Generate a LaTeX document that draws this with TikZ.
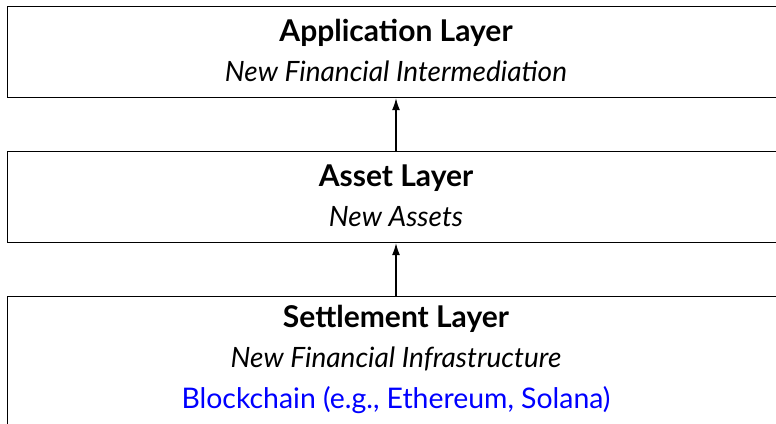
\documentclass[tikz,border=0pt]{standalone}
\usepackage{fontspec}
\setmainfont{Lato}
\usetikzlibrary{arrows.meta}
\tikzset{
  layerbox/.style={draw=black, line width=0.9pt, minimum width=586.5pt, inner sep=0pt, anchor=north west},
  titletext/.style={anchor=base, inner sep=0pt, font=\fontsize{22.5}{26}\selectfont\bfseries},
  subtext/.style={anchor=base, inner sep=0pt, font=\fontsize{21}{25}\selectfont\itshape},
  chaintext/.style={anchor=base, inner sep=0pt, text=blue, font=\fontsize{21.3}{25}\selectfont},
  uparrow/.style={-{Latex[length=9pt,width=6pt]}, line width=0.9pt}
}
\begin{document}
\begin{tikzpicture}[x=0.75pt, y=-0.75pt]
\useasboundingbox (0,0) rectangle (776,424);
\clip (0,0) rectangle (776,424);
\node[layerbox, minimum height=68.25pt] (app) at (7,6) {};
\node[layerbox, minimum height=68.25pt] (asset) at (7,151) {};
\node[layerbox, minimum height=120pt] (settle) at (7,296) {};
\node[titletext] (appt) at (396,42) {Application Layer};
\node[subtext] (apps) at (396,82) {New Financial Intermediation};
\node[titletext] (assett) at (396,187) {Asset Layer};
\node[subtext] (assets) at (396,227) {New Assets};
\node[titletext] (settlet) at (396,328) {Settlement Layer};
\node[subtext] (settles) at (396,368) {New Financial Infrastructure};
\node[chaintext] (chain) at (396,409) {Blockchain (e.g., Ethereum, Solana)};
\draw[uparrow] (asset.north -| appt) -- (app.south -| appt);
\draw[uparrow] (settle.north -| appt) -- (asset.south -| appt);
\end{tikzpicture}
\end{document}
